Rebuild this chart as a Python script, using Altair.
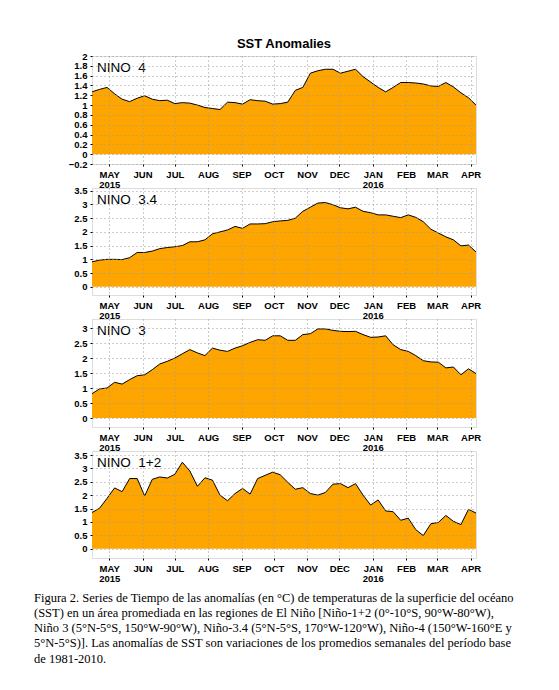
import altair as alt
import pandas as pd

# ---- data (weekly SST anomalies, °C) ----
start_date = "2015-04-15"
n_weeks = 52

nino4 = [1.27, 1.32, 1.36, 1.23, 1.12, 1.07, 1.14, 1.19, 1.12, 1.09,
         1.10, 1.03, 1.05, 1.04, 1.00, 0.95, 0.93, 0.91, 1.06, 1.05,
         1.02, 1.11, 1.09, 1.08, 1.02, 1.03, 1.06, 1.30, 1.36, 1.65,
         1.70, 1.73, 1.73, 1.65, 1.69, 1.73, 1.58, 1.47, 1.36, 1.27,
         1.36, 1.46, 1.46, 1.45, 1.43, 1.39, 1.38, 1.46, 1.37, 1.25,
         1.15, 1.00]
nino34 = [0.91, 0.97, 1.00, 1.00, 0.99, 1.06, 1.25, 1.25, 1.30, 1.39,
          1.43, 1.46, 1.50, 1.64, 1.64, 1.71, 1.93, 2.00, 2.07, 2.20,
          2.13, 2.29, 2.29, 2.30, 2.37, 2.40, 2.42, 2.50, 2.75, 2.90,
          3.05, 3.07, 2.99, 2.88, 2.84, 2.90, 2.75, 2.70, 2.62, 2.62,
          2.57, 2.52, 2.62, 2.53, 2.37, 2.10, 1.96, 1.82, 1.71, 1.49,
          1.52, 1.27]
nino3 = [0.81, 0.97, 1.00, 1.19, 1.13, 1.28, 1.41, 1.44, 1.61, 1.80,
         1.89, 2.00, 2.14, 2.28, 2.17, 2.08, 2.33, 2.26, 2.22, 2.33,
         2.41, 2.52, 2.61, 2.59, 2.74, 2.74, 2.59, 2.59, 2.78, 2.81,
         2.97, 2.97, 2.92, 2.89, 2.88, 2.89, 2.78, 2.69, 2.70, 2.74,
         2.44, 2.28, 2.22, 2.08, 1.91, 1.87, 1.86, 1.67, 1.70, 1.44,
         1.64, 1.48]
nino12 = [1.35, 1.51, 1.88, 2.27, 2.13, 2.62, 2.62, 1.97, 2.59, 2.68,
          2.64, 2.78, 3.23, 2.90, 2.33, 2.65, 2.56, 2.00, 1.79, 2.06,
          2.25, 2.04, 2.62, 2.74, 2.86, 2.76, 2.48, 2.22, 2.28, 2.06,
          2.00, 2.10, 2.41, 2.43, 2.28, 2.43, 2.00, 1.63, 1.82, 1.41,
          1.38, 1.06, 1.14, 0.71, 0.49, 0.93, 0.98, 1.24, 1.02, 0.90,
          1.47, 1.33]

panel_labels = ["NINO\u00a0 4", "NINO\u00a0 3.4", "NINO\u00a0 3", "NINO\u00a0 1+2"]
ticks4 = [-0.2, 0, 0.2, 0.4, 0.6, 0.8, 1, 1.2, 1.4, 1.6, 1.8, 2]
ticks_35 = [0, 0.5, 1, 1.5, 2, 2.5, 3, 3.5]
ticks_3 = [0, 0.5, 1, 1.5, 2, 2.5, 3]

caption_lines = [
    "Figura 2. Series de Tiempo de las anomalías  (en °C) de temperaturas de la superficie del océano",
    "(SST) en un área promediada  en las regiones de El Niño [Niño-1+2  (0°-10°S, 90°W-80°W),",
    "Niño 3 (5°N-5°S, 150°W-90°W), Niño-3.4 (5°N-5°S, 170°W-120°W), Niño-4 (150°W-160°E y",
    "5°N-5°S)]. Las anomalías de SST son variaciones de los promedios semanales del período base",
    "de 1981-2010.",
]

dates = pd.date_range(start_date, periods=n_weeks, freq="7D").strftime("%Y-%m-%d")
df = pd.DataFrame({"date": dates, "n4": nino4, "n34": nino34, "n3": nino3, "n12": nino12})

ORANGE = "#FFA500"
FONT = "Liberation Sans"

x_label_expr = (
    "(utcmonth(datum.value) == 4 || utcmonth(datum.value) == 0) ? "
    "[upper(utcFormat(datum.value, '%b')), utcFormat(datum.value, '%Y')] : "
    "upper(utcFormat(datum.value, '%b'))"
)

x_enc = alt.X(
    "date:T",
    title=None,
    scale=alt.Scale(
        type="utc",
        domain=[alt.DateTime(year=2015, month=4, date=15, utc=True),
                alt.DateTime(year=2016, month=4, date=6, utc=True)],
    ),
    axis=alt.Axis(
        tickCount="month",
        labelExpr=x_label_expr,
        labelOverlap=False,
        labelFlush=False,
        labelFont=FONT,
        labelFontSize=9.5,
        labelFontWeight="bold",
        labelColor="black",
        labelPadding=3,
        labelLineHeight=10,
        tickSize=2,
        tickColor="black",
        domain=False,
        grid=True,
        gridColor="#9a9a9a",
        gridDash=[1, 3],
        gridWidth=1,
        zindex=1,
    ),
)


def panel(field, label, domain, ticks, height, title=None):
    y_axis = alt.Axis(
        values=ticks,
        format="~g",
        labelFont=FONT,
        labelFontSize=9.5,
        labelFontWeight="bold",
        labelColor="black",
        labelPadding=3,
        labelOverlap=False,
        labelFlush=False,
        tickSize=2,
        tickColor="black",
        domain=False,
        grid=True,
        gridColor="#9a9a9a",
        gridDash=[1, 3],
        gridWidth=1,
        minExtent=28,
        maxExtent=28,
        zindex=1,
    )
    y_enc = alt.Y(f"{field}:Q", title=None,
                  scale=alt.Scale(domain=domain, nice=False, zero=False), axis=y_axis)
    base = alt.Chart(df).encode(x=x_enc, y=y_enc)
    area = base.mark_area(color=ORANGE, opacity=1).encode(y2=alt.datum(0))
    line = base.mark_line(color="black", strokeWidth=1)
    lab = alt.Chart(pd.DataFrame({"name": [label]})).mark_text(
        font=FONT, fontSize=13.5, align="left", baseline="middle", color="black"
    ).encode(text="name:N", x=alt.value(5), y=alt.value(12))
    props = dict(width=384, height=height)
    if title is not None:
        props["title"] = title
    return alt.layer(area, line, lab).properties(**props)


top_title = alt.TitleParams(
    "SST Anomalies", font=FONT, fontSize=13, fontWeight="bold", color="black",
    anchor="middle", frame="group", offset=0,
)
caption = alt.TitleParams(
    caption_lines, orient="bottom", anchor="start", frame="group", dx=-58, offset=9,
    font="Liberation Serif", fontSize=12.5, fontWeight="normal", color="black",
    lineHeight=15.3, baseline="top",
)

p1 = panel("n4", panel_labels[0], [-0.2, 2], ticks4, 108, top_title)
p2 = panel("n34", panel_labels[1], [-0.3, 3.6], ticks_35, 107)
p3 = panel("n3", panel_labels[2], [-0.3, 3.3], ticks_3, 108)
p4 = panel("n12", panel_labels[3], [-0.35, 3.65], ticks_35, 107, caption)

chart = alt.vconcat(p1, p2, p3, p4, spacing=24, bounds="flush").properties(
    padding={"left": 25, "top": 29, "right": 5, "bottom": 5}
).configure_view(stroke="black", strokeWidth=1.5).configure(background="white")

chart.save("out.html", embed_options={"renderer": "svg", "actions": False})
